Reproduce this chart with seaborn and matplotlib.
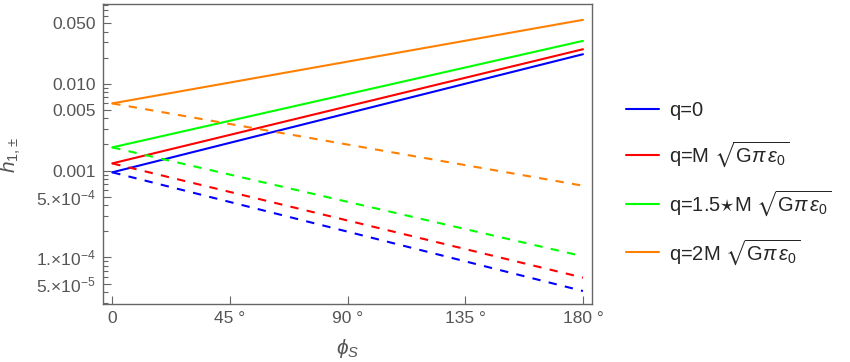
import numpy as np
import pandas as pd
import matplotlib
matplotlib.use("Agg")
import matplotlib.pyplot as plt
import seaborn as sns
from matplotlib.lines import Line2D
from matplotlib.ticker import FixedLocator

# Data (values at phi_S = 0 and 180 degrees)
phi = [0, 180]
labels = [
    "q=0",
    r"q=M $\sqrt{\mathrm{G}\pi\,\epsilon_0}$",
    r"q=1.5$\star$M $\sqrt{\mathrm{G}\pi\,\epsilon_0}$",
    r"q=2M $\sqrt{\mathrm{G}\pi\,\epsilon_0}$",
]
colors = ["#0000ff", "#ff0000", "#00ff00", "#ff8000"]
h_plus = [[9.55e-4, 0.0219], [1.21e-3, 0.0250], [1.85e-3, 0.0312], [5.94e-3, 0.0545]]
h_minus = [[9.55e-4, 4.1e-5], [1.21e-3, 5.85e-5], [1.85e-3, 1.03e-4], [5.94e-3, 6.7e-4]]

rows = []
for lab, hp, hm in zip(labels, h_plus, h_minus):
    for p, a, b in zip(phi, hp, hm):
        rows.append({"phi": p, "h": a, "q": lab, "branch": "+"})
        rows.append({"phi": p, "h": b, "q": lab, "branch": "-"})
df = pd.DataFrame(rows)

sns.set_style("ticks")
plt.rcParams["font.family"] = ["Liberation Sans", "DejaVu Sans"]
plt.rcParams["mathtext.fontset"] = "custom"
plt.rcParams["mathtext.rm"] = "Liberation Sans"
plt.rcParams["mathtext.it"] = "Liberation Sans:italic"
plt.rcParams["mathtext.bf"] = "Liberation Sans:bold"
plt.rcParams["mathtext.fallback"] = "stixsans"

fig = plt.figure(figsize=(8.5, 3.62), dpi=100)
ax = fig.add_axes([0.121, 0.160, 0.575, 0.829])

sns.lineplot(
    data=df, x="phi", y="h", hue="q", style="branch",
    palette=colors, hue_order=labels,
    dashes={"+": "", "-": (4, 4)},
    linewidth=1.5, legend=False, ax=ax
)

ax.set_yscale("log")
ax.set_xlim(-3.6, 183.3)
ax.set_ylim(2.9e-5, 0.083)

# ticks, Mathematica style
gray = "#555555"
yt = [5e-5, 1e-4, 5e-4, 1e-3, 5e-3, 1e-2, 5e-2]
ytl = [r"5.$\times$10$^{-5}$", r"1.$\times$10$^{-4}$", r"5.$\times$10$^{-4}$",
       "0.001", "0.005", "0.010", "0.050"]
ax.set_yticks(yt)
ax.set_yticklabels(ytl)
minor = [m * 10.0 ** e for e in range(-5, -1) for m in range(1, 10)]
minor = [v for v in minor if v not in yt and 2.9e-5 < v < 0.083]
ax.yaxis.set_minor_locator(FixedLocator(minor))
ax.yaxis.set_minor_formatter(plt.NullFormatter())

ax.set_xticks([0, 45, 90, 135, 180])
ax.set_xticklabels(["0", "45 °", "90 °", "135 °", "180 °"])

ax.tick_params(which="major", direction="in", length=6, width=0.8,
               color="#666666", labelcolor=gray, labelsize=12.5, pad=5)
ax.tick_params(which="minor", direction="in", length=3.5, width=0.8,
               color="#666666")
for s in ax.spines.values():
    s.set_color("#666666")
    s.set_linewidth(1.0)

ax.set_xlabel(r"$\phi_S$", fontsize=15, color=gray, labelpad=8)
ax.set_ylabel(r"$h_{1{,}\pm}$", fontsize=15, color=gray)
ax.yaxis.set_label_coords(-0.164, 0.495)

handles = [Line2D([0], [0], color=c, lw=1.5) for c in colors]
ax.legend(handles, labels, loc="center left", bbox_to_anchor=(1.034, 0.40),
          frameon=False, fontsize=14.5, handlelength=1.6, labelspacing=0.95,
          handletextpad=0.5)

fig.savefig("out.png", dpi=100)
